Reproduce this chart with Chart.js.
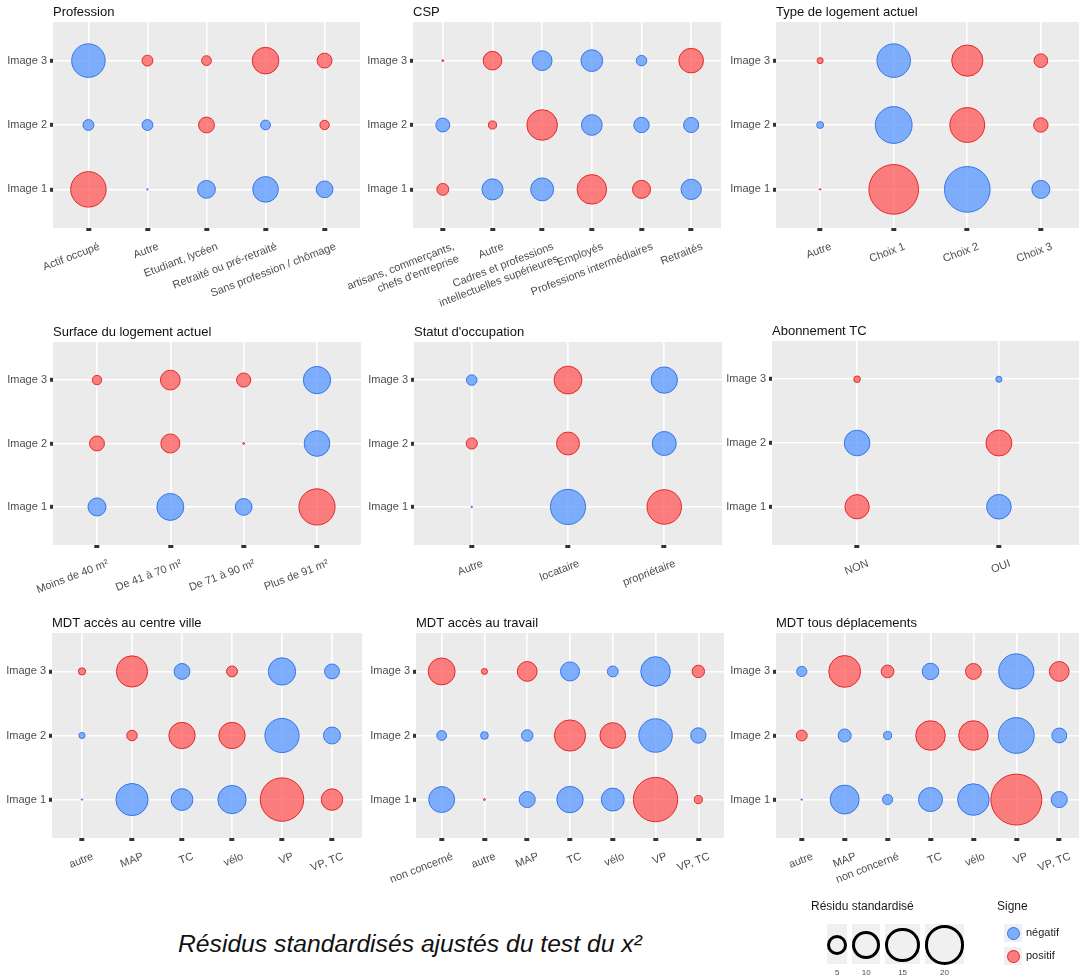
<!DOCTYPE html>
<html>
<head>
<meta charset="utf-8">
<script src="https://cdn.jsdelivr.net/npm/chart.js@4.4.1/dist/chart.umd.min.js"></script>
<style>
  html, body { margin: 0; padding: 0; background: #fff; width: 1079px; height: 978px; overflow: hidden; }
  body { position: relative; font-family: "Liberation Sans", Arial, sans-serif; }
  canvas { position: absolute; }
  .legende { position: absolute; color: #1a1a1a; font-size: 12px; }
  .cle { position: absolute; background: #f0f0f0; }
  .rond { position: absolute; border-radius: 50%; box-sizing: border-box; }
  .petit { position: absolute; font-size: 8px; color: #4d4d4d; transform: translateX(-50%); }
  #legende-texte { position: absolute; left: 178px; top: 932px; font-size: 24.7px; font-style: italic; color: #111; line-height: 1; white-space: nowrap; }
</style>
</head>
<body>

<div id="legende-texte">Résidus standardisés ajustés du test du x²</div>

<script>
/* --------------- donnees (residus standardises, signe = couleur) --------------- */

const lignes = ['Image 1', 'Image 2', 'Image 3'];

const professionCats = ['Actif occupé', 'Autre', 'Etudiant, lycéen', 'Retraité ou pré-retraité', 'Sans profession / chômage'];
const professionImage1 = [17.0, -0.03, -4.3, -8.9, -3.8];
const professionImage2 = [-1.6, -1.6, 3.4, -1.3, 1.2];
const professionImage3 = [-15.2, 1.6, 1.3, 9.6, 3.0];

const cspCats = [['artisans, commerçants,', "chefs d'entreprise"], 'Autre', ['Cadres et professions', 'intellectuelles supérieures'], 'Employés', 'Professions intermédiaires', 'Retraités'];
const cspImage1 = [1.9, -6.0, -7.1, 11.8, 4.4, -5.6];
const cspImage2 = [-2.6, 0.9, 12.6, -5.8, -3.2, -3.1];
const cspImage3 = [0.05, 4.7, -5.3, -6.4, -1.5, 8.2];

const typeCats = ['Autre', 'Choix 1', 'Choix 2', 'Choix 3'];
const typeImage1 = [0.03, 33.3, -28.2, -4.4];
const typeImage2 = [-0.64, -18.3, 16.4, 2.8];
const typeImage3 = [0.5, -15.2, 13.2, 2.5];

const surfaceCats = ['Moins de 40 m²', 'De 41 à 70 m²', 'De 71 à 90 m²', 'Plus de 91 m²'];
const surfaceImage1 = [-4.4, -9.8, -3.8, 17.7];
const surfaceImage2 = [3.0, 4.9, 0.05, -8.9];
const surfaceImage3 = [1.2, 5.3, 2.7, -10.1];

const statutCats = ['Autre', 'locataire', 'propriétaire'];
const statutImage1 = [-0.03, -16.7, 16.1];
const statutImage2 = [1.7, 7.1, -7.8];
const statutImage3 = [-1.5, 10.5, -9.4];

const abonnementCats = ['NON', 'OUI'];
const abonnementImage1 = [8.0, -8.2];
const abonnementImage2 = [-8.9, 9.1];
const abonnementImage3 = [0.6, -0.5];

const centreCats = ['autre', 'MAP', 'TC', 'vélo', 'VP', 'VP, TC'];
const centreImage1 = [-0.03, -14.0, -6.4, -10.8, 25.5, 6.2];
const centreImage2 = [-0.5, 1.5, 9.4, 9.4, -15.8, -3.9];
const centreImage3 = [0.7, 13.2, -3.4, 1.6, -10.1, -3.0];

const travailCats = ['non concerné', 'autre', 'MAP', 'TC', 'vélo', 'VP', 'VP, TC'];
const travailImage1 = [-9.1, 0.05, -3.5, -9.4, -7.1, 26.6, 0.9];
const travailImage2 = [-1.3, -0.8, -1.8, 13.2, 8.9, -15.2, -3.2];
const travailImage3 = [9.8, 0.5, 5.3, -4.9, -1.6, -11.8, 2.1];

const tousCats = ['autre', 'MAP', 'non concerné', 'TC', 'vélo', 'VP', 'VP, TC'];
const tousImage1 = [-0.03, -11.3, -1.4, -7.8, -13.5, 35.1, -3.5];
const tousImage2 = [1.6, -2.3, -0.9, 11.8, 11.8, -17.3, -3.0];
const tousImage3 = [-1.4, 13.7, 2.2, -3.7, 3.4, -16.7, 5.3];

const legendeTailles = [5, 10, 15, 20];
const legendeSignes = ['négatif', 'positif'];

/* --------------- styles --------------- */

const POLICE = '"Liberation Sans", Arial, sans-serif';
const K = 4.3;            // rayon (px) par racine du residu
const XH = 80;            // hauteur de l'axe x
const TITRE_H = 13 * 1.2 + 2;
const BLEU = 'rgba(97, 156, 255, 0.8)';
const BLEU_BORD = 'rgba(45, 115, 230, 0.95)';
const ROUGE = 'rgba(255, 80, 80, 0.72)';
const ROUGE_BORD = 'rgba(225, 35, 35, 0.95)';

Chart.defaults.font.family = POLICE;

const fondPanneau = {
    id: 'fondPanneau',
    beforeDraw(chart) {
        const { ctx, chartArea: a } = chart;
        ctx.save();
        ctx.fillStyle = '#EBEBEB';
        ctx.fillRect(a.left, a.top, a.right - a.left, a.bottom - a.top);
        ctx.restore();
    }
};

function panneau(titre, cats, series, geo) {
    const canvas = document.createElement('canvas');
    const w = geo.pr - geo.cx;
    const h = geo.pb - geo.cy + XH;
    canvas.width = w;
    canvas.height = h;
    canvas.style.left = geo.cx + 'px';
    canvas.style.top = geo.cy + 'px';
    canvas.style.width = w + 'px';
    canvas.style.height = h + 'px';
    document.body.appendChild(canvas);

    const points = [];
    series.forEach((vals, i) => {
        vals.forEach((v, j) => {
            points.push({ x: j, y: i, r: Math.max(K * Math.sqrt(Math.abs(v)), 0.6), v: v });
        });
    });

    new Chart(canvas, {
        type: 'bubble',
        data: {
            datasets: [{
                data: points,
                backgroundColor: c => (c.raw && c.raw.v < 0) ? BLEU : ROUGE,
                borderColor: c => (c.raw && c.raw.v < 0) ? BLEU_BORD : ROUGE_BORD,
                borderWidth: 1
            }]
        },
        options: {
            responsive: false,
            animation: false,
            events: [],
            layout: { autoPadding: false, padding: { top: geo.pt - geo.cy - TITRE_H, left: 0, right: 0, bottom: 0 } },
            plugins: {
                legend: { display: false },
                tooltip: { enabled: false },
                title: {
                    display: true,
                    text: titre,
                    align: 'start',
                    fullSize: false,
                    color: '#111',
                    font: { size: 13, weight: 'normal' },
                    padding: { top: 0, bottom: 2 }
                }
            },
            scales: {
                x: {
                    type: 'linear',
                    min: -0.6,
                    max: cats.length - 0.4,
                    afterBuildTicks: s => { s.ticks = cats.map((c, i) => ({ value: i })); },
                    afterFit: s => { s.height = XH; s.paddingLeft = 0; s.paddingRight = 0; },
                    ticks: {
                        autoSkip: false,
                        minRotation: 21,
                        maxRotation: 21,
                        padding: 9,
                        labelOffset: 11,
                        color: '#4d4d4d',
                        font: { size: 11 },
                        callback: v => cats[v]
                    },
                    grid: { color: '#ffffff', lineWidth: 1.6, tickColor: '#333', tickLength: 3, tickWidth: 5 },
                    border: { display: false }
                },
                y: {
                    type: 'linear',
                    min: -0.6,
                    max: lignes.length - 0.4,
                    afterBuildTicks: s => { s.ticks = lignes.map((c, i) => ({ value: i })); },
                    afterFit: s => { s.width = geo.pl - geo.cx; s.paddingTop = 0; s.paddingBottom = 0; },
                    ticks: {
                        padding: 3,
                        color: '#4d4d4d',
                        font: { size: 11 },
                        callback: v => lignes[v]
                    },
                    grid: { color: '#ffffff', lineWidth: 1.6, tickColor: '#333', tickLength: 3, tickWidth: 4 },
                    border: { display: false }
                }
            }
        },
        plugins: [fondPanneau]
    });
}

panneau('Profession', professionCats, [professionImage1, professionImage2, professionImage3],
    { cx: 0, cy: 0, pl: 53, pr: 360, pt: 22, pb: 228 });
panneau('CSP', cspCats, [cspImage1, cspImage2, cspImage3],
    { cx: 340, cy: 0, pl: 413, pr: 721, pt: 22, pb: 228 });
panneau('Type de logement actuel', typeCats, [typeImage1, typeImage2, typeImage3],
    { cx: 700, cy: 0, pl: 776, pr: 1085, pt: 22, pb: 228 });
panneau('Surface du logement actuel', surfaceCats, [surfaceImage1, surfaceImage2, surfaceImage3],
    { cx: 0, cy: 318, pl: 53, pr: 361, pt: 342, pb: 545 });
panneau("Statut d'occupation", statutCats, [statutImage1, statutImage2, statutImage3],
    { cx: 340, cy: 318, pl: 414, pr: 722, pt: 342, pb: 545 });
panneau('Abonnement TC', abonnementCats, [abonnementImage1, abonnementImage2, abonnementImage3],
    { cx: 700, cy: 318, pl: 772, pr: 1084, pt: 341, pb: 545 });
panneau('MDT accès au centre ville', centreCats, [centreImage1, centreImage2, centreImage3],
    { cx: 0, cy: 608, pl: 52, pr: 362, pt: 633, pb: 838 });
panneau('MDT accès au travail', travailCats, [travailImage1, travailImage2, travailImage3],
    { cx: 340, cy: 608, pl: 416, pr: 724, pt: 633, pb: 838 });
panneau('MDT tous déplacements', tousCats, [tousImage1, tousImage2, tousImage3],
    { cx: 700, cy: 608, pl: 776, pr: 1085, pt: 633, pb: 838 });

/* --------------- legendes --------------- */

function ajoute(cls, styles, texte) {
    const d = document.createElement('div');
    d.className = cls;
    Object.assign(d.style, styles);
    if (texte) d.textContent = texte;
    document.body.appendChild(d);
    return d;
}

ajoute('legende', { left: '811px', top: '899px' }, 'Résidu standardisé');
let x = 827;
legendeTailles.forEach(v => {
    const d = 2 * K * Math.sqrt(v) + 1;
    const bw = Math.max(d, 16);
    ajoute('cle', { left: x + 'px', top: '924px', width: bw + 'px', height: '40px' });
    const cxm = x + bw / 2;
    ajoute('rond', { left: (cxm - d / 2) + 'px', top: (945 - d / 2) + 'px', width: d + 'px', height: d + 'px', border: '3.5px solid #000' });
    ajoute('petit', { left: cxm + 'px', top: '968px' }, String(v));
    x += bw + 5;
});

ajoute('legende', { left: '997px', top: '899px' }, 'Signe');
legendeSignes.forEach((s, i) => {
    const y = 924 + i * 23;
    ajoute('cle', { left: '1004px', top: y + 'px', width: '18px', height: '18px' });
    ajoute('rond', { left: '1006.5px', top: (y + 2.5) + 'px', width: '13px', height: '13px',
        background: i === 0 ? BLEU : ROUGE, border: '1px solid ' + (i === 0 ? BLEU_BORD : ROUGE_BORD) });
    ajoute('legende', { left: '1026px', top: (y + 2) + 'px', fontSize: '11px' }, s);
});
</script>
</body>
</html>
